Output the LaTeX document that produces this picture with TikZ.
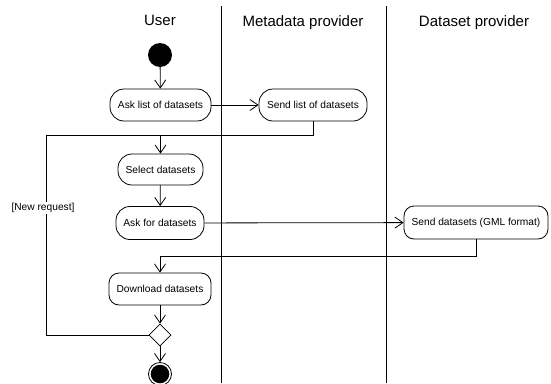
\documentclass[tikz,border=0pt]{standalone}
\usepackage{fontspec}
\setmainfont{Liberation Sans}
\usetikzlibrary{arrows.meta,shapes.geometric}

\begin{document}
\begin{tikzpicture}[x=1pt,y=-1pt,
  every node/.style={font=\fontsize{10.2}{12}\selectfont},
  act/.style={draw, line width=0.8pt, rounded corners=#1, minimum height=32pt,
              inner sep=0pt, align=center},
  act/.default=14pt,
  flow/.style={draw, line width=0.8pt, -{Straight Barb[length=8pt,width=11pt]}},
  wire/.style={draw, line width=0.8pt},
  lane/.style={draw, line width=0.8pt},
  title/.style={font=\fontsize{15}{18}\selectfont, anchor=base}]

  \useasboundingbox (0,0) rectangle (551,383);
  \clip (0,0) rectangle (551,383);

  % swimlanes
  \coordinate (l1t) at (221,6);   \coordinate (l1b) at (221,383);
  \coordinate (l2t) at (386,6);   \coordinate (l2b) at (386,383);
  \path[lane] (l1t) -- (l1b);
  \path[lane] (l2t) -- (l2b);

  \node[title] (tuser) at (160,25) {User};
  \node[title] (tmeta) at (303,26) {Metadata provider};
  \node[title] (tdata) at (474,26) {Dataset provider};

  % activities
  \node[circle, fill, minimum size=24pt, inner sep=0pt] (start) at (160,55) {};
  \node[act, minimum width=101pt] (ask) at (160.5,105) {Ask list of datasets};
  \node[act, minimum width=108pt] (send) at (313,105) {Send list of datasets};
  \node[act, minimum width=85pt, minimum height=31pt] (select) at (160.5,169.5) {Select datasets};
  \node[act, minimum width=88pt, minimum height=33pt] (askfor) at (160,223) {Ask for datasets};
  \node[act=10pt, minimum width=144pt, minimum height=33pt] (sendds) at (476,222.5) {Send datasets (GML format)};
  \node[act=10pt, minimum width=102pt] (down) at (160,289) {Download datasets};
  \node[diamond, draw, line width=0.8pt, minimum width=22pt, minimum height=22pt,
        inner sep=0pt, fill=white] (dec) at (160,335) {};
  \node[circle, draw, line width=0.8pt, minimum size=23pt, inner sep=0pt] (stop) at (160,374) {};
  \fill (stop.center) circle (9.3pt);

  % merge points
  \coordinate (m1) at (160.5,135);
  \coordinate (loopL) at (46,135);
  \coordinate (m2) at (160,256);

  % connectors
  \path[flow] (start) -- (ask);
  \path[flow] (ask) -- (send);
  \path[wire] (send.south) |- (m1);
  \path[wire] (dec.west) -| (loopL) -- (m1);
  \path[flow] (m1) -- (select);
  \path[flow] (select) -- (askfor);
  \path[flow] (askfor) -- (sendds);
  \path[wire] (sendds.south) |- (m2);
  \path[flow] (m2) -- (down);
  \path[flow] (down) -- (dec);
  \path[flow] (dec) -- (stop);

  \node[fill=white, inner sep=1pt] (newreq) at (43,208) {[New request]};
\end{tikzpicture}
\end{document}
